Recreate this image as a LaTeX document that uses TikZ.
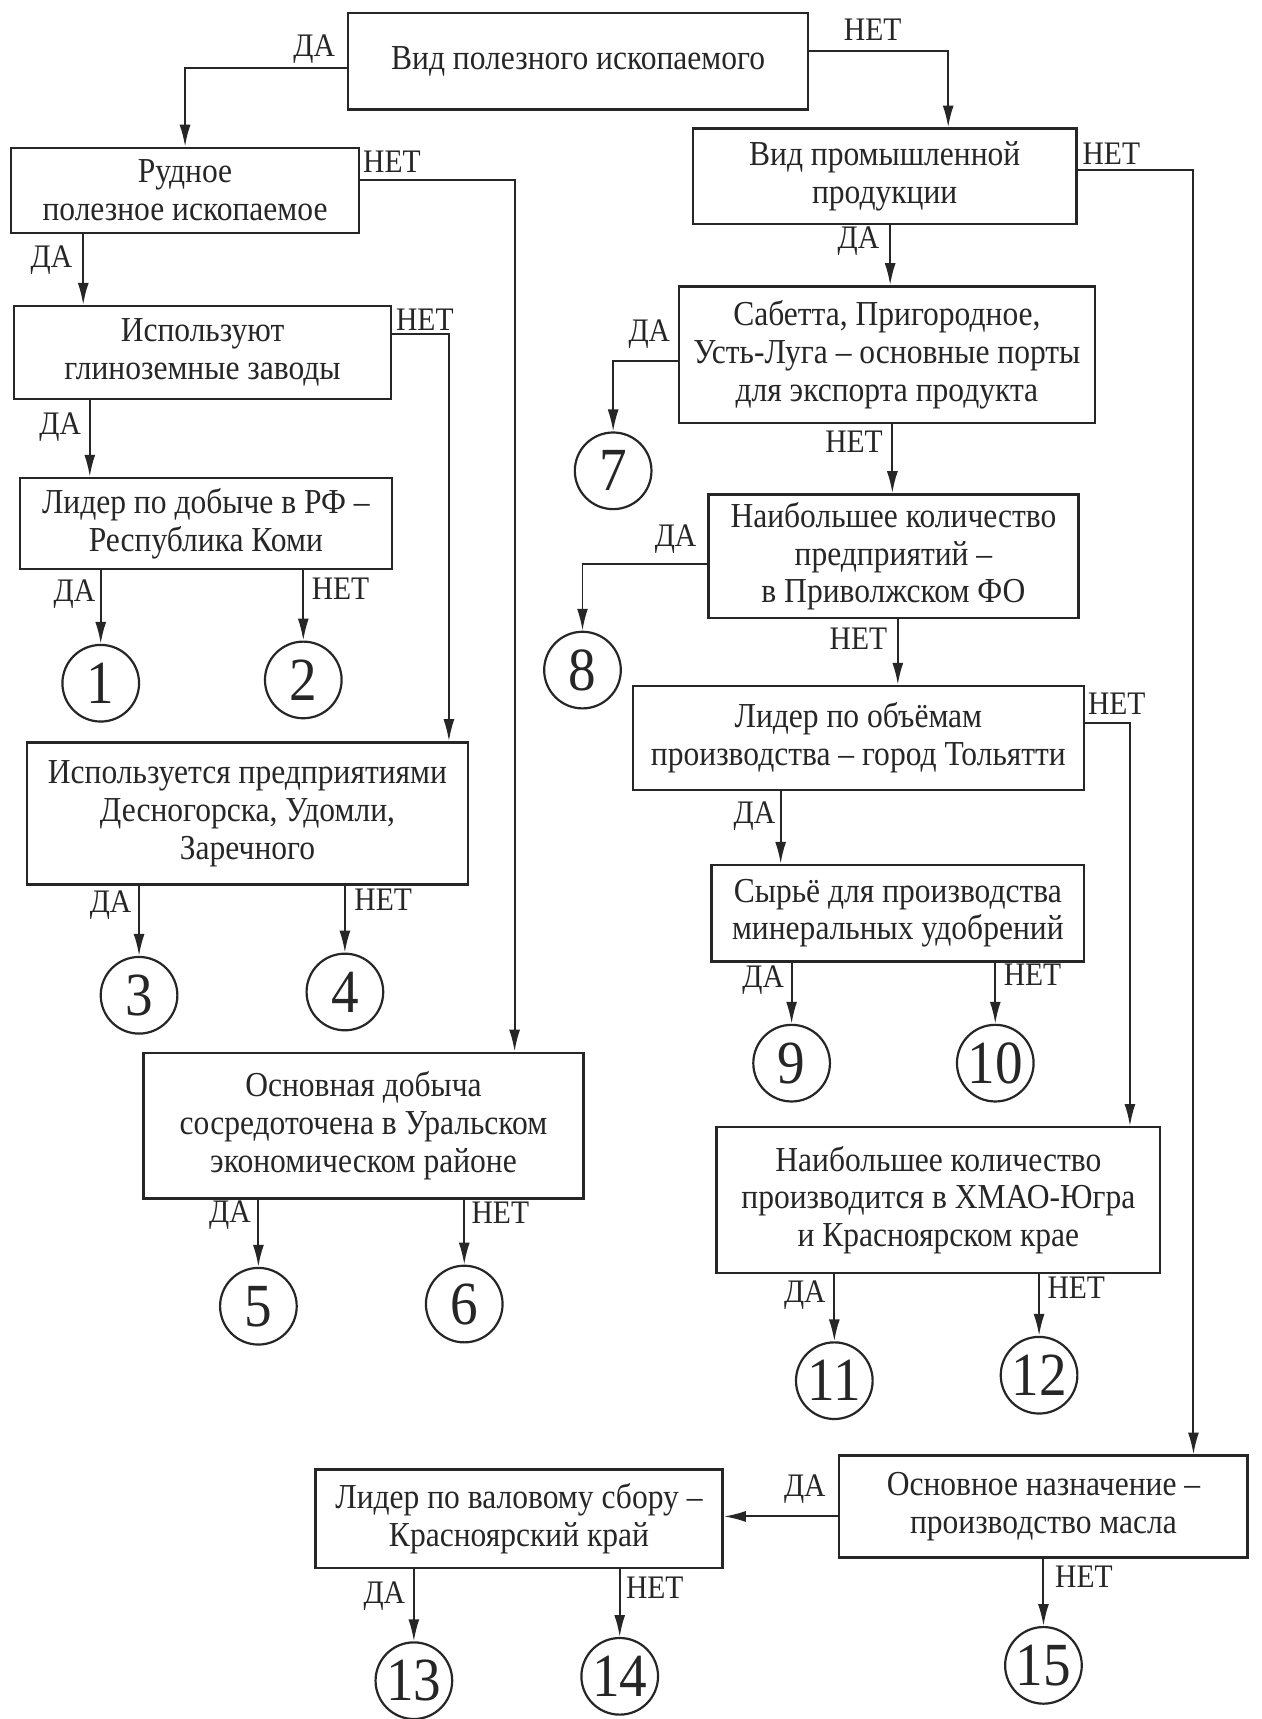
\documentclass[tikz,border=0pt]{standalone}
\usepackage{fontspec}
\setmainfont{Liberation Serif}[FakeStretch=0.9]
\usetikzlibrary{arrows.meta,calc}
\tikzset{
  box/.style={draw=black!85, line width=2.2pt, align=center, inner sep=0pt,
    font=\fontsize{32}{34.5}\selectfont, text=black!85},
  num/.style={draw=black!85, line width=2pt, circle, minimum size=70pt, inner sep=0pt,
    font=\fontsize{56}{56}\selectfont, text=black!85},
  lbl/.style={font=\fontsize{30}{30}\selectfont, text=black!85, inner sep=0pt},
  arr/.style={draw=black!85, line width=1.8pt, -{Latex[length=20pt,width=10pt]}},
}
\begin{document}
\begin{tikzpicture}[x=1pt,y=-1pt]
\useasboundingbox[fill=white] (0,0) rectangle (1152,1570);
% boxes
\node[box, minimum width=420pt, minimum height=88pt] (A) at (528,56) {Вид полезного ископаемого};
\node[box, minimum width=318pt, minimum height=78pt] (B) at (169,174) {Рудное\\полезное ископаемое};
\node[box, minimum width=344pt, minimum height=85pt] (C) at (185,322) {Используют\\глиноземные заводы};
\node[box, minimum width=340pt, minimum height=83pt] (D) at (188,478) {Лидер по добыче в РФ –\\Республика Коми};
\node[box, minimum width=403pt, minimum height=130pt] (E) at (226,743) {Используется предприятиями\\Десногорска, Удомли,\\Заречного};
\node[box, minimum width=402pt, minimum height=133pt] (H) at (332,1028) {Основная добыча\\сосредоточена в Уральском\\экономическом районе};
\node[box, minimum width=350pt, minimum height=87pt] (F) at (808,161) {Вид промышленной\\продукции};
\node[box, minimum width=380pt, minimum height=125pt] (G) at (810,324) {Сабетта, Пригородное,\\Усть-Луга – основные порты\\для экспорта продукта};
\node[box, minimum width=338pt, minimum height=113pt] (I) at (816,508) {Наибольшее количество\\предприятий –\\в Приволжском ФО};
\node[box, minimum width=412pt, minimum height=95pt] (J) at (784,674) {Лидер по объёмам\\производства – город Тольятти};
\node[box, minimum width=340pt, minimum height=88pt] (K) at (820,834) {Сырьё для производства\\минеральных удобрений};
\node[box, minimum width=405pt, minimum height=133pt] (M) at (857,1096) {Наибольшее количество\\производится в ХМАО-Югра\\и Красноярском крае};
\node[box, minimum width=373pt, minimum height=93pt] (N) at (953,1376) {Основное назначение –\\производство масла};
\node[box, minimum width=372pt, minimum height=90pt] (L) at (474,1387) {Лидер по валовому сбору –\\Красноярский край};
% circles
\node[num] (c1) at (92,624) {1};
\node[num] (c2) at (277,621) {2};
\node[num] (c3) at (127,909) {3};
\node[num] (c4) at (315,906) {4};
\node[num] (c5) at (236,1193) {5};
\node[num] (c6) at (424,1191) {6};
\node[num] (c7) at (560,430) {7};
\node[num] (c8) at (532,612) {8};
\node[num] (c9) at (723,971) {9};
\node[num] (c10) at (909,971) {10};
\node[num] (c11) at (762,1261) {11};
\node[num] (c12) at (949,1256) {12};
\node[num] (c13) at (378,1535) {13};
\node[num] (c14) at (566,1531) {14};
\node[num] (c15) at (953,1521) {15};
% helper x positions
\coordinate (xBC) at (76,0);
\coordinate (xCD) at (82,0);
\coordinate (xFG) at (813,0);
\coordinate (xGI) at (815,0);
\coordinate (xIJ) at (820,0);
\coordinate (xJK) at (713,0);
% connectors
\draw[arr] ([yshift=-6pt]A.west) -| (B.north);
\draw[arr] ([yshift=9pt]A.east) -| ([xshift=58pt]F.north);
\draw[arr] ([yshift=10pt]B.east) -| ([xshift=138pt]H.north);
\draw[arr] (B.south -| xBC) -- (C.north -| xBC);
\draw[arr] ([yshift=17pt]C.east) -| ([xshift=184pt]E.north);
\draw[arr] (C.south -| xCD) -- (D.north -| xCD);
\draw[arr] (D.south -| c1) -- (c1.north);
\draw[arr] (D.south -| c2) -- (c2.north);
\draw[arr] (E.south -| c3) -- (c3.north);
\draw[arr] (E.south -| c4) -- (c4.north);
\draw[arr] (H.south -| c5) -- (c5.north);
\draw[arr] (H.south -| c6) -- (c6.north);
\draw[arr] (F.south -| xFG) -- (G.north -| xFG);
\draw[arr] ([yshift=-6pt]G.west) -| (c7.north);
\draw[arr] (G.south -| xGI) -- (I.north -| xGI);
\draw[arr] ([yshift=-7pt]I.west) -| (c8.north);
\draw[arr] (I.south -| xIJ) -- (J.north -| xIJ);
\draw[arr] (J.south -| xJK) -- (K.north -| xJK);
\draw[arr] ([yshift=14pt]J.east) -| ([xshift=175pt]M.north);
\draw[arr] ([yshift=6pt]F.east) -| ([xshift=137pt]N.north);
\draw[arr] (K.south -| c9) -- (c9.north);
\draw[arr] (K.south -| c10) -- (c10.north);
\draw[arr] (M.south -| c11) -- (c11.north);
\draw[arr] (M.south -| c12) -- (c12.north);
\draw[arr] ([yshift=-9pt]N.west) -- ([yshift=-9pt]N.west -| L.east);
\draw[arr] (N.south -| c15) -- (c15.north);
\draw[arr] (L.south -| c13) -- (c13.north);
\draw[arr] (L.south -| c14) -- (c14.north);
% labels
\node[lbl] (lA1) at (287,45) {ДА};
\node[lbl] (lA2) at (797,27) {НЕТ};
\node[lbl] (lB2) at (358,148) {НЕТ};
\node[lbl] (lB1) at (47,238) {ДА};
\node[lbl] (lC2) at (388,292) {НЕТ};
\node[lbl] (lC1) at (55,390) {ДА};
\node[lbl] (lD1) at (68,543) {ДА};
\node[lbl] (lD2) at (311,538) {НЕТ};
\node[lbl] (lE1) at (101,827) {ДА};
\node[lbl] (lE2) at (350,822) {НЕТ};
\node[lbl] (lH1) at (210,1110) {ДА};
\node[lbl] (lH2) at (457,1108) {НЕТ};
\node[lbl] (lF2) at (1015,140) {НЕТ};
\node[lbl] (lF1) at (784,220) {ДА};
\node[lbl] (lG1) at (593,305) {ДА};
\node[lbl] (lG2) at (780,403) {НЕТ};
\node[lbl] (lI1) at (617,492) {ДА};
\node[lbl] (lI2) at (784,583) {НЕТ};
\node[lbl] (lJ2) at (1020,643) {НЕТ};
\node[lbl] (lJ1) at (689,745) {ДА};
\node[lbl] (lK1) at (697,895) {ДА};
\node[lbl] (lK2) at (943,890) {НЕТ};
\node[lbl] (lM1) at (735,1183) {ДА};
\node[lbl] (lM2) at (983,1176) {НЕТ};
\node[lbl] (lN1) at (735,1360) {ДА};
\node[lbl] (lN2) at (990,1440) {НЕТ};
\node[lbl] (lL1) at (351,1458) {ДА};
\node[lbl] (lL2) at (598,1450) {НЕТ};
\end{tikzpicture}
\end{document}
